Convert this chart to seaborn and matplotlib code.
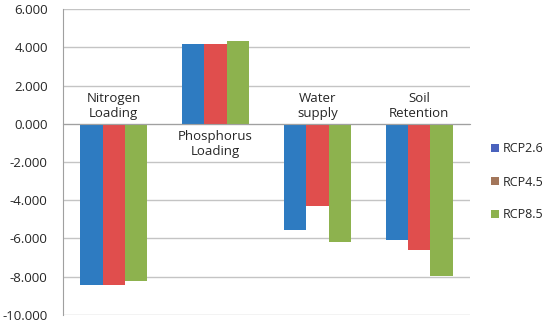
import matplotlib.pyplot as plt
import seaborn as sns
import pandas as pd
from matplotlib.patches import Patch

categories = ['Nitrogen\nLoading', 'Phosphorus\nLoading', 'Water\nsupply', 'Soil\nRetention']
scenarios = ['RCP2.6', 'RCP4.5', 'RCP8.5']
rcp26 = [-8.46, 4.19, -5.57, -6.09]
rcp45 = [-8.41, 4.19, -4.28, -6.61]
rcp85 = [-8.25, 4.32, -6.21, -7.97]
y_ticks = [6, 4, 2, 0, -2, -4, -6, -8, -10]

bar_colors = ['#2e7bc1', '#e04e4d', '#8db24e']
legend_colors = ['#4a62bd', '#a3765a', '#8db24e']

df = pd.DataFrame({
    'category': categories * 3,
    'scenario': [s for s in scenarios for _ in categories],
    'value': rcp26 + rcp45 + rcp85,
})

sns.set_style('white')
plt.rcParams['font.family'] = ['Open Sans', 'DejaVu Sans']

fig = plt.figure(figsize=(5.5, 3.25), dpi=100)
ax = fig.add_axes([0.1145, 0.031, 0.74, 0.941])

sns.barplot(data=df, x='category', y='value', hue='scenario',
            palette=bar_colors, width=0.66, saturation=1,
            edgecolor='none', legend=False, ax=ax)

ax.set_ylim(-10, 6)
ax.set_xlim(-0.5, len(categories) - 0.5)
ax.set_yticks(y_ticks)
ax.set_yticklabels([f'{v:.3f}' for v in y_ticks], fontsize=9.5)
ax.yaxis.grid(True, color='#c4c4c4', linewidth=1)
ax.set_axisbelow(True)
ax.tick_params(axis='y', length=3, color='#a0a0a0', pad=8)

ax.set_xlabel('')
ax.set_ylabel('')
for s in ['top', 'right']:
    ax.spines[s].set_visible(False)
ax.spines['left'].set_color('#a0a0a0')
ax.spines['bottom'].set_position(('data', 0))
ax.spines['bottom'].set_color('#a0a0a0')
ax.set_xticks([i + 0.5 for i in range(len(categories))])
ax.set_xticklabels([])
ax.tick_params(axis='x', direction='out', length=4, color='#a0a0a0')

# category labels sit next to the zero line, on the side away from the bars
for i, cat in enumerate(categories):
    vals = [rcp26[i], rcp45[i], rcp85[i]]
    if sum(vals) < 0:
        ax.text(i, 0.2, cat, ha='center', va='bottom', fontsize=9.5,
                linespacing=1.2)
    else:
        ax.text(i, -0.3, cat, ha='center', va='top', fontsize=9.5,
                linespacing=1.2)

handles = [Patch(facecolor=c, edgecolor='none') for c in legend_colors]
fig.legend(handles, scenarios, loc='center left', bbox_to_anchor=(0.893, 0.44),
           frameon=False, fontsize=9, handlelength=0.6, handleheight=0.6,
           handletextpad=0.35, labelspacing=1.6, borderpad=0, borderaxespad=0)

fig.savefig('out.png', dpi=100)
